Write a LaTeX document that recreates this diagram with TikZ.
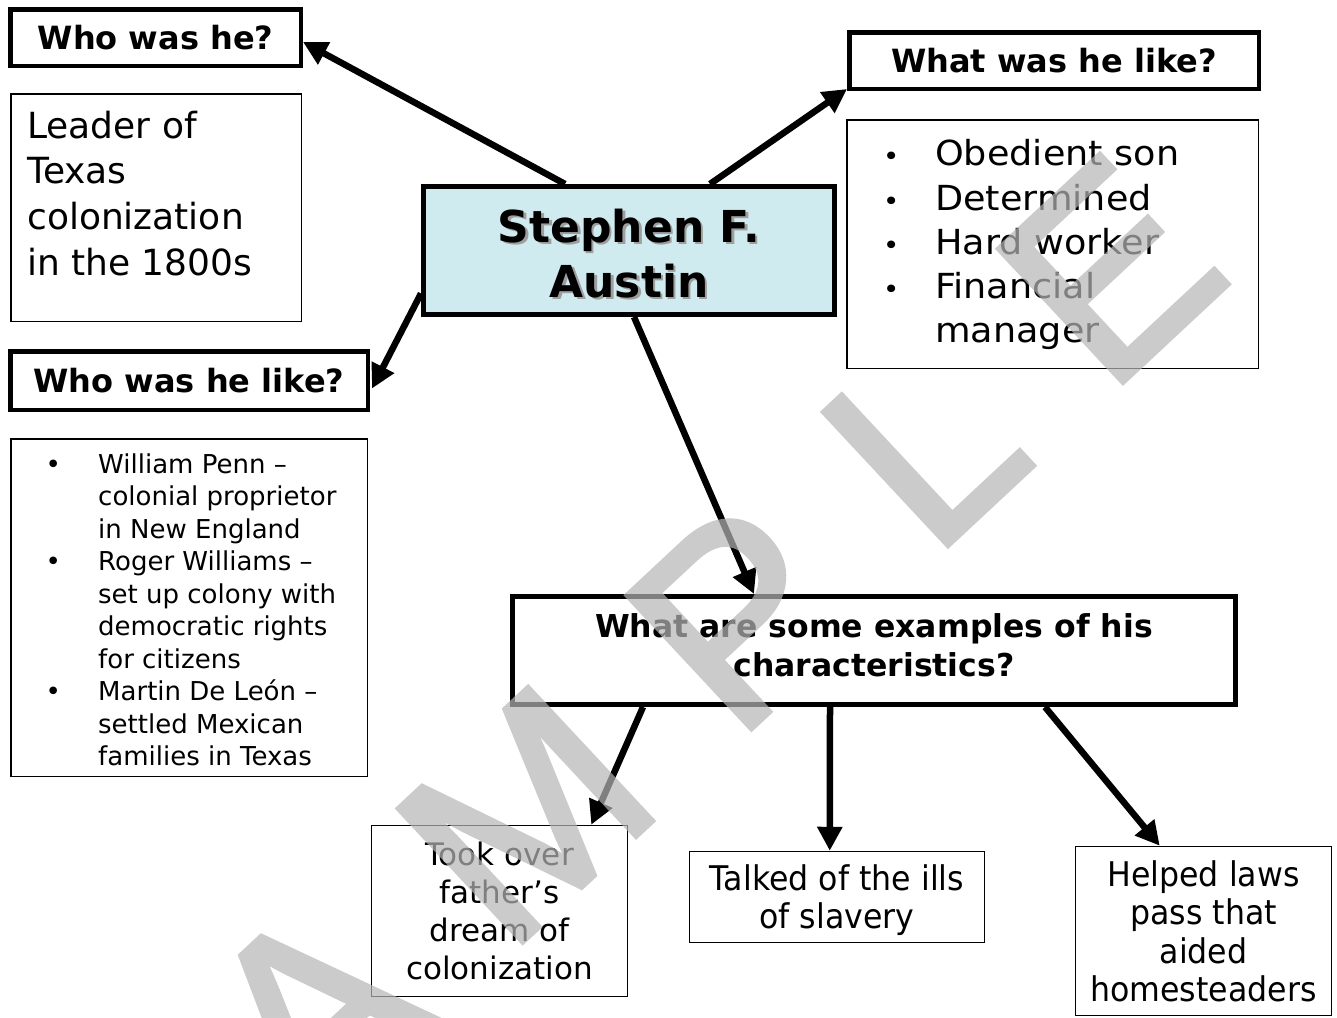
\documentclass[tikz,border=0pt]{standalone}
\usepackage{fontspec}
\setmainfont{DejaVu Sans}
\newfontfamily\wmfont[FakeBold=2]{Liberation Sans}
\newfontfamily\tahfont[FakeStretch=0.93]{DejaVu Sans}
\newfontfamily\widefont[FakeStretch=1.06]{DejaVu Sans}
\usetikzlibrary{arrows.meta,calc}
\definecolor{sfablue}{HTML}{D0EBF0}
\definecolor{wmgray}{gray}{0.714}
\definecolor{shadowgray}{gray}{0.62}
\newcommand{\blt}[1]{\makebox[#1][l]{•}}
\newcommand{\sblt}[1]{\makebox[#1][l]{\hspace*{3pt}\fontsize{26}{26}\selectfont •}}
\tikzset{
  heavybox/.style={draw=black, line width=4.5pt, rectangle, inner sep=0pt},
  lightbox/.style={draw=black, line width=1.5pt, rectangle, inner sep=0pt},
  conn/.style={line width=6.5pt, -{Triangle[length=24pt,width=24pt]}},
  headtxt/.style={font=\fontsize{32}{38}\selectfont\bfseries},
  txt/.style={inner sep=0pt, anchor=base},
  txtl/.style={inner sep=0pt, anchor=base west},
}
\begin{document}
\begin{tikzpicture}[x=1pt,y=-1pt]
\useasboundingbox (0,0) rectangle (1337,1017);
\fill[white] (0,0) rectangle (1337,1017);

% upper left
\node[heavybox, minimum width=290.5pt, minimum height=56.5pt, headtxt] (whohe) at (155.5,37.5) {Who was he?};
\node[lightbox, minimum width=290.5pt, minimum height=227.5pt] (leaderbox) at (156,207.5) {};
\node[txtl] (leadertxt) at (27,138) {\parbox[t]{270pt}{\raggedright\fontsize{36}{45.8}\selectfont Leader of\\Texas\\colonization\\in the 1800s}};

% centre
\node[rectangle, draw=black, line width=5pt, fill=sfablue, minimum width=411pt, minimum height=128pt, inner sep=0pt] (sfa) at (629,250.5) {};
\node[txt, text=shadowgray] (sfashadow) at (631.5,244.5) {\parbox[t]{400pt}{\centering\fontsize{44}{55}\selectfont\bfseries Stephen F.\\Austin}};
\node[txt] (sfatxt) at (629,242) {\parbox[t]{400pt}{\centering\fontsize{44}{55}\selectfont\bfseries Stephen F.\\Austin}};

% upper right
\node[heavybox, minimum width=409.5pt, minimum height=56.5pt, headtxt] (whatlike) at (1054,60.5) {What was he like?};
\node[lightbox, minimum width=411.5pt, minimum height=248.5pt] (likebox) at (1052.5,244) {};
\node[txtl] (liketxt) at (880,165.7) {\parbox[t]{370pt}{\raggedright\widefont\fontsize{34.5}{44.3}\selectfont
\sblt{55pt}Obedient son\\
\sblt{55pt}Determined\\
\sblt{55pt}Hard worker\\
\sblt{55pt}Financial\\
\hspace*{55pt}manager}};

% left middle
\node[heavybox, minimum width=357.5pt, minimum height=58.5pt, headtxt] (whohelike) at (189,380.5) {Who was he like?};
\node[lightbox, minimum width=356.5pt, minimum height=337.5pt] (pennbox) at (189,607.5) {};
\node[txtl] (penntxt) at (45.3,473.3) {\parbox[t]{320pt}{\raggedright\fontsize{26}{32.5}\selectfont
\blt{52.7pt}William Penn –\\
\hspace*{52.7pt}colonial proprietor\\
\hspace*{52.7pt}in New England\\
\blt{52.7pt}Roger Williams –\\
\hspace*{52.7pt}set up colony with\\
\hspace*{52.7pt}democratic rights\\
\hspace*{52.7pt}for citizens\\
\blt{52.7pt}Martin De León –\\
\hspace*{52.7pt}settled Mexican\\
\hspace*{52.7pt}families in Texas}};

% examples
\node[rectangle, draw=black, line width=5pt, minimum width=723pt, minimum height=108pt, inner sep=0pt] (whatare) at (874,650.5) {};
\node[txt] (whataretxt) at (874,637) {\parbox[t]{700pt}{\centering\fontsize{31.5}{39}\selectfont\bfseries What are some examples of his\\characteristics?}};

\node[lightbox, minimum width=256pt, minimum height=171pt] (took) at (499.5,911) {};
\node[txt] (tooktxt) at (499.5,865) {\parbox[t]{250pt}{\centering\fontsize{31}{38.2}\selectfont Took over\\father’s\\dream of\\colonization}};

\node[lightbox, minimum width=295pt, minimum height=91pt] (talked) at (837,897) {};
\node[txt] (talkedtxt) at (837,890) {\parbox[t]{290pt}{\centering\tahfont\fontsize{34}{38}\selectfont Talked of the ills\\of slavery}};

\node[lightbox, minimum width=256pt, minimum height=169pt] (helped) at (1203.5,931) {};
\node[txt] (helpedtxt) at (1203.5,886) {\parbox[t]{250pt}{\centering\tahfont\fontsize{34}{38.6}\selectfont Helped laws\\pass that\\aided\\homesteaders}};

% connectors
\draw[conn] ($(sfa.north west)+(144,0)$) -- ($(whohe.east)+(0,4.5)$);
\draw[conn] ($(sfa.north west)+(289,0)$) -- ($(whatlike.south west)+(0,-2)$);
\draw[conn] ($(sfa.west)+(0,43)$) -- ($(whohelike.east)+(2,8)$);
\draw[conn] ($(sfa.south west)+(213,0)$) -- ($(whatare.north west)+(244,0)$);
\draw[conn] ($(whatare.south west)+(133,0)$) -- ($(took.north east)+(-37,0)$);
\draw[conn] ($(whatare.south west)+(320,0)$) -- ($(talked.north west)+(141,0)$);
\draw[conn] ($(whatare.south west)+(535,0)$) -- ($(helped.north west)+(85,0)$);

% watermark
\begin{scope}
\clip (0,0) rectangle (1337,1017);
\begin{scope}[transparency group, opacity=0.7]
\node[rotate=43, text=wmgray, inner sep=0pt, font=\wmfont\fontsize{265}{265}\selectfont] (wm) at (613,733) {S\hspace{92pt}A\hspace{92pt}M\hspace{92pt}P\hspace{92pt}L\hspace{92pt}E};
\end{scope}
\end{scope}
\end{tikzpicture}
\end{document}
